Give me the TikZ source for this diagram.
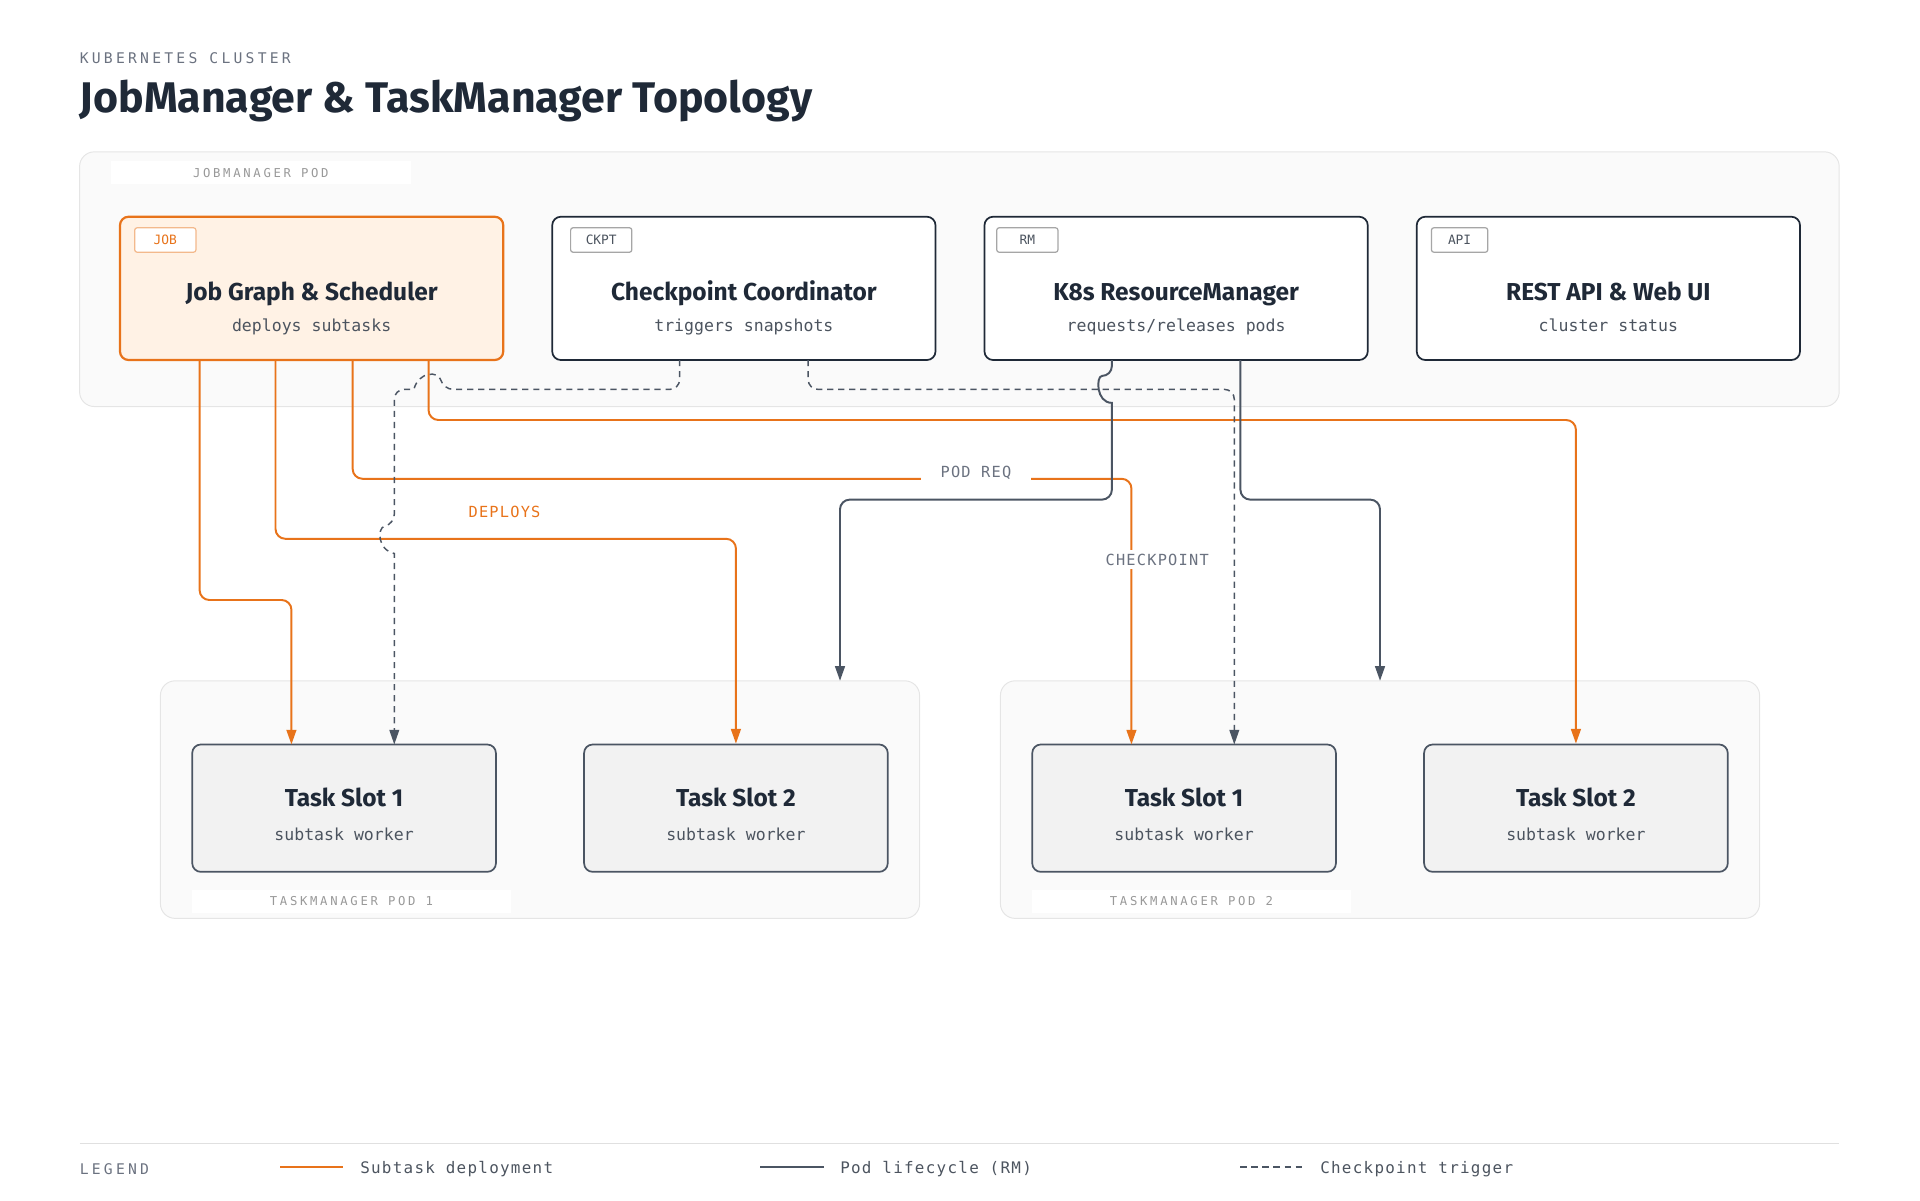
\documentclass[tikz,border=0pt]{standalone}
\usepackage{fontspec}
\usetikzlibrary{arrows.meta,calc}
\setmainfont{Noto Sans}
\newfontfamily\hd{Fira Sans}
\newfontfamily\mono{DejaVu Sans Mono}
\newfontfamily\monols[LetterSpace=22]{DejaVu Sans Mono}
\newfontfamily\monolt[LetterSpace=8]{DejaVu Sans Mono}
\definecolor{org}{HTML}{E8731A}
\definecolor{ink}{HTML}{1F2937}
\definecolor{gry}{HTML}{4B5563}
\definecolor{lbl}{HTML}{6B7280}
\begin{document}
\begin{tikzpicture}[x=1pt,y=-1pt,
  pod/.style={draw=black!10,fill=black!2,rounded corners=12,line width=0.8pt},
  podlbl/.style={fill=white,minimum width=245pt,minimum height=19pt,inner sep=0,font=\monols\fontsize{10}{10}\selectfont,text=black!40},
  top/.style={draw=ink,fill=white,line width=1.4pt,rounded corners=7,minimum width=313pt,minimum height=117pt,inner sep=0},
  slot/.style={draw=gry,fill=black!5,line width=1.4pt,rounded corners=7,minimum width=248pt,minimum height=104pt,inner sep=0},
  tag/.style={draw=black!35,fill=white,rounded corners=2,line width=1pt,minimum width=50pt,minimum height=20pt,inner sep=0,font=\mono\fontsize{10.5}{10}\selectfont,text=ink!80},
  ttl/.style={font=\hd\bfseries\fontsize{20}{22}\selectfont,text=ink},
  sub/.style={font=\mono\fontsize{13.5}{14}\selectfont,text=ink!80},
  ol/.style={draw=org,line width=1.6pt,rounded corners=8},
  gl/.style={draw=gry,line width=1.6pt,rounded corners=8},
  dl/.style={draw=gry,line width=1.2pt,dash pattern=on 5pt off 4pt,rounded corners=8},
  tip/.style={-{Triangle[length=12pt,width=8pt]}},
  elab/.style={font=\monolt\fontsize{12.5}{13}\selectfont,text=lbl,fill=white,inner sep=3pt}
]
\useasboundingbox (0,0) rectangle (1568,980);
\node[anchor=base west,inner sep=0,font=\monols\fontsize{12}{12}\selectfont,text=lbl] (kc) at (65,52) {KUBERNETES CLUSTER};
\node[anchor=base west,inner sep=0,font=\hd\bfseries\fontsize{35}{36}\selectfont,text=ink] (title) at (65,92) {JobManager \& TaskManager Topology};

% pods
\draw[pod] (65,124) rectangle (1502,332);
\node[podlbl] (jmlbl) at (213,141) {JOBMANAGER POD};
\draw[pod] (131,556) rectangle (751,750);
\draw[pod] (817,556) rectangle (1437,750);
\node[podlbl,minimum width=261pt] (tm1lbl) at (287,736) {TASKMANAGER POD 1};
\node[podlbl,minimum width=261pt] (tm2lbl) at (973,736) {TASKMANAGER POD 2};

% top boxes
\node[top,draw=org,fill=orange!10!white,line width=1.8pt] (job) at (254.5,235.5) {};
\node[top] (ckpt) at (607.5,235.5) {};
\node[top] (rm) at (960.5,235.5) {};
\node[top] (api) at (1313.5,235.5) {};
\node[tag,draw=org!50,text=org] (tjob) at (135,196) {JOB};
\node[tag] (tckpt) at (491,196) {CKPT};
\node[tag] (trm) at (839,196) {RM};
\node[tag,minimum width=46pt] (tapi) at (1192,196) {API};
\foreach \n/\x/\t/\s in {j/254.5/Job Graph \& Scheduler/deploys subtasks,c/607.5/Checkpoint Coordinator/triggers snapshots,r/960.5/K8s ResourceManager/requests\slash releases pods,a/1313.5/REST API \& Web UI/cluster status}{
  \node[ttl,anchor=base] (t\n) at (\x,245) {\t};
  \node[sub,anchor=base] (s\n) at (\x,271) {\s};
}

% slots
\node[slot] (s1a) at (281,660) {};
\node[slot] (s2a) at (601,660) {};
\node[slot] (s1b) at (967,660) {};
\node[slot] (s2b) at (1287,660) {};
\foreach \n/\x/\k in {1/281/1,2/601/2,3/967/1,4/1287/2}{
  \node[ttl,anchor=base] (st\n) at (\x,659) {Task Slot \k};
  \node[sub,anchor=base] (ss\n) at (\x,686) {subtask worker};
}

% orange deployment lines
\draw[ol,tip] (163,294) -- (163,490) -- (238,490) -- (238,608);
\draw[ol,tip] (225,294) -- (225,440) -- (601,440) -- (s2a.north);
\draw[ol,tip] (288,294) -- (288,391) -- (924,391) -- (924,608);
\draw[ol,tip] (350,294) -- (350,343) -- (1287,343) -- (s2b.north);

% gray RM lines
\draw[gl,tip] (908,294) -- (908,307) [sharp corners] .. controls (895,307) and (895,329) .. (908,329) [rounded corners=8] -- (908,408) -- (686,408) -- (686,556);
\draw[gl,tip] (1013,294) -- (1013,408) -- (1127,408) -- (1127,556);

% dashed checkpoint lines
\draw[dl,tip] (555,294) -- (555,318) -- (362,318) [sharp corners] .. controls (358,303) and (342,303) .. (338,318) [rounded corners=8] -- (322,318) -- (322,428) [sharp corners] .. controls (308,431) and (308,449) .. (322,452) -- (322,608);
\draw[dl,tip] (660,294) -- (660,318) -- (1008,318) -- (1008,608);

% labels
\node[elab,inner xsep=16pt] (lpod) at (797,386) {POD REQ};
\node[elab,text=org,fill=none] (ldep) at (412,418) {DEPLOYS};
\node[elab] (lck) at (945,457) {CHECKPOINT};

% legend
\draw[black!12,line width=0.8pt] (65,934) -- (1502,934);
\node[anchor=west,inner sep=0,font=\monols\fontsize{12}{12}\selectfont,text=lbl] (leg) at (65,955) {LEGEND};
\coordinate (l1a) at (229,953); \coordinate (l1b) at (280,953);
\coordinate (l2a) at (621,953); \coordinate (l2b) at (673,953);
\coordinate (l3a) at (1013,953); \coordinate (l3b) at (1065,953);
\draw[ol] (l1a) -- (l1b);
\draw[gl] (l2a) -- (l2b);
\draw[dl] (l3a) -- (l3b);
\foreach \i/\x/\t in {1/294/Subtask deployment,2/686/Pod lifecycle (RM),3/1078/Checkpoint trigger}
  \node[anchor=west,inner sep=0,font=\monolt\fontsize{13}{13}\selectfont,text=ink!80] (lt\i) at (\x,955) {\t};
\end{tikzpicture}
\end{document}
